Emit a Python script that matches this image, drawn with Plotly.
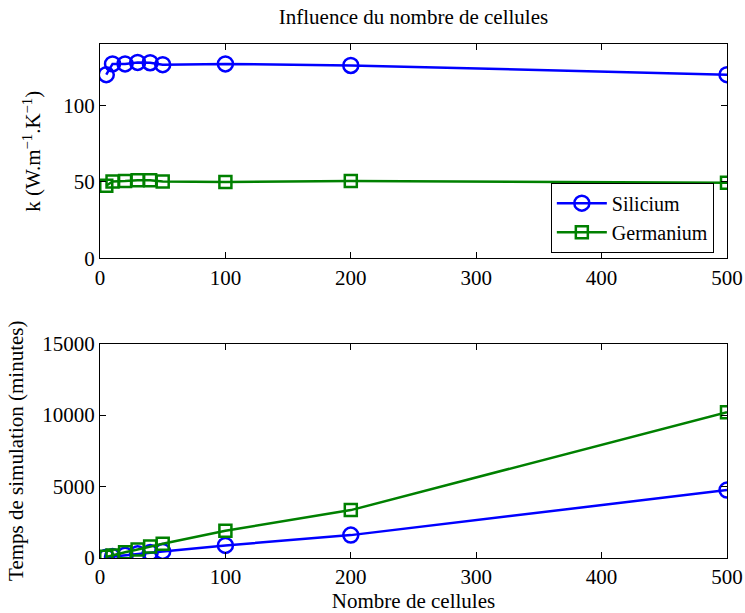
import plotly.graph_objects as go
from plotly.subplots import make_subplots

cells = [5, 10, 20, 30, 40, 50, 100, 200, 500]
k_si = [120, 127, 127, 128, 127.8, 126.5, 127, 126, 120]
k_ge = [47.5, 50.2, 50.5, 51, 51, 50.3, 50, 50.5, 49.5]
t_si = [50, 100, 200, 300, 380, 460, 880, 1600, 4750]
t_ge = [80, 170, 400, 600, 800, 1000, 1900, 3350, 10200]

BLUE = "#0000FF"
GREEN = "#008000"
FONT = "Liberation Serif"
FS = 21

fig = make_subplots(rows=2, cols=1, vertical_spacing=0.1654)

def add(x, y, name, color, symbol, size, row, show):
    fig.add_trace(go.Scatter(x=x, y=y, mode="lines+markers", name=name, showlegend=show,
                             line=dict(color=color, width=2.5),
                             marker=dict(symbol=symbol, size=size, line=dict(width=2.5, color=color))),
                  row=row, col=1)

add(cells, k_si, "Silicium", BLUE, "circle-open", 15, 1, True)
add(cells, k_ge, "Germanium", GREEN, "square-open", 12, 1, True)
add(cells, t_si, "Silicium", BLUE, "circle-open", 15, 2, False)
add(cells, t_ge, "Germanium", GREEN, "square-open", 12, 2, False)

axis_common = dict(showline=True, linecolor="black", linewidth=1, mirror="ticks",
                   ticks="inside", ticklen=6, tickcolor="black", showgrid=False, zeroline=False,
                   tickformat="d", automargin=False,
                   tickfont=dict(family=FONT, size=FS, color="black"))

fig.update_xaxes(range=[0, 500], tickvals=[0, 100, 200, 300, 400, 500], **axis_common)
fig.update_xaxes(title=dict(text="Nombre de cellules", font=dict(family=FONT, size=FS, color="black"), standoff=0),
                 row=2, col=1)
fig.update_yaxes(range=[0, 140], tickvals=[0, 50, 100], row=1, col=1, **axis_common)
fig.update_yaxes(title=dict(text="k (W.m<sup>−1</sup>.K<sup>−1</sup>)", font=dict(family=FONT, size=FS, color="black"), standoff=16),
                 row=1, col=1)
fig.update_yaxes(range=[0, 15000], tickvals=[0, 5000, 10000, 15000], row=2, col=1, **axis_common)
fig.update_yaxes(title=dict(text="Temps de simulation (minutes)", font=dict(family=FONT, size=FS, color="black"), standoff=12),
                 row=2, col=1)

fig.update_layout(
    width=745, height=613,
    margin=dict(l=100, r=18, t=44, b=55, autoexpand=False),
    font=dict(family=FONT, size=FS, color="black"),
    paper_bgcolor="white", plot_bgcolor="white",
    title=dict(text="Influence du nombre de cellules", x=0.555, xanchor="center",
               yref="container", y=1 - 17 / 613, yanchor="middle",
               font=dict(family=FONT, size=FS, color="black")),
    legend=dict(x=0.979, xanchor="right", y=0.594, yanchor="bottom",
                bordercolor="black", borderwidth=1, bgcolor="white", itemwidth=50,
                font=dict(family=FONT, size=20, color="black"), tracegroupgap=0),
    showlegend=True,
)

fig.write_html("out.html", config={"displayModeBar": False},
               post_script="document.body.style.margin='0';document.body.style.padding='0';")
